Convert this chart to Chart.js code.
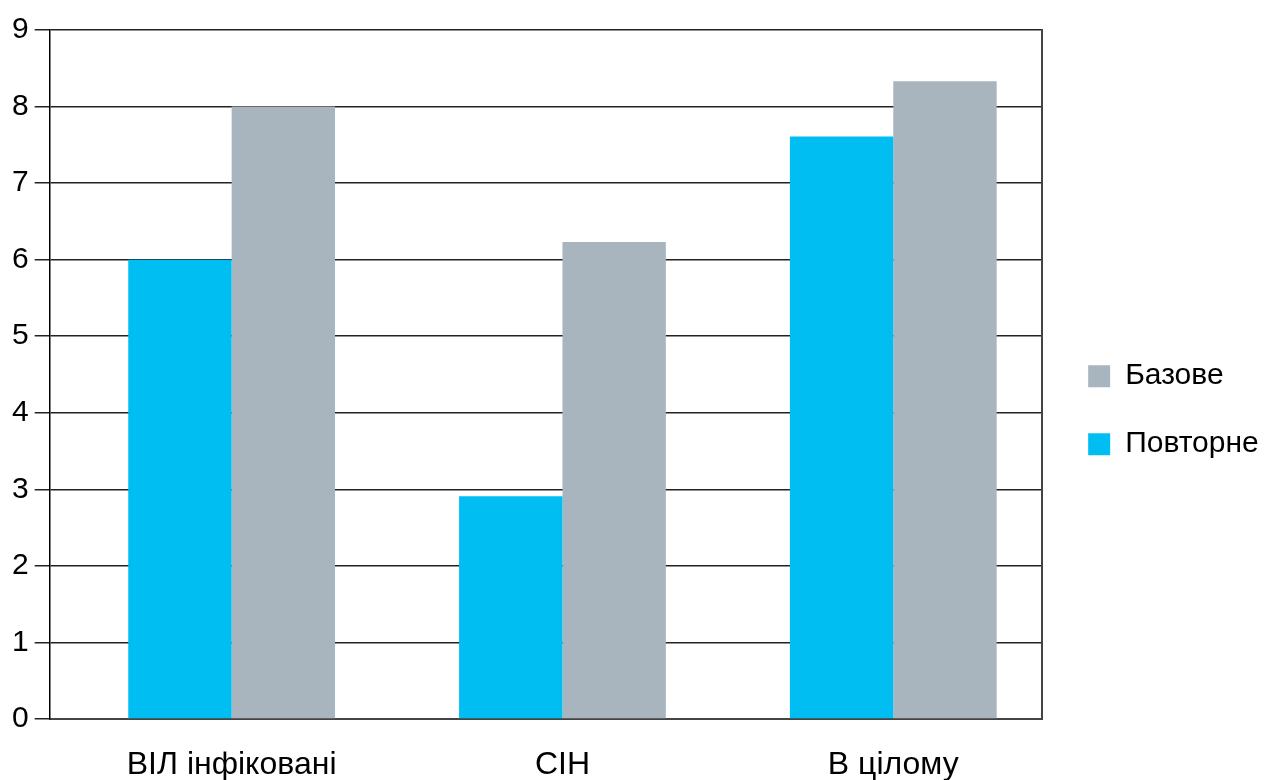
<!DOCTYPE html>
<html>
<head>
<meta charset="utf-8">
<script src="https://cdn.jsdelivr.net/npm/chart.js@4"></script>
<style>
    html, body { margin: 0; padding: 0; background: #fff; }
    #wrap { width: 1270px; height: 780px; }
</style>
</head>
<body>
<div id="wrap"><canvas id="chart"></canvas></div>
<script>
const categories = ["ВІЛ інфіковані", "СІН", "В цілому"];
const povtorne = [6.0, 2.91, 7.61];
const bazove = [8.0, 6.23, 8.33];
const yTicks = [0, 1, 2, 3, 4, 5, 6, 7, 8, 9];

const FONT = "'Liberation Sans', Arial, Helvetica, sans-serif";

// the groups sit a bit right of centre in the original, so x is a numeric axis
const toPoints = values => values.map((v, i) => ({ x: i, y: v }));

const ctx = document.getElementById("chart").getContext("2d");
new Chart(ctx, {
    type: 'bar',
    data: {
        datasets: [{
            label: 'Повторне',
            data: toPoints(povtorne),
            backgroundColor: '#00BEF2',
            categoryPercentage: 0.625,
            barPercentage: 1.0
        }, {
            label: 'Базове',
            data: toPoints(bazove),
            backgroundColor: '#A8B5BE',
            categoryPercentage: 0.625,
            barPercentage: 1.0
        }]
    },
    options: {
        responsive: true,
        maintainAspectRatio: false,
        animation: false,
        layout: {
            padding: { top: 30, left: 6, right: 11, bottom: 0 }
        },
        scales: {
            x: {
                type: 'linear',
                offset: false,
                min: -0.55,
                max: 2.45,
                afterBuildTicks: axis => {
                    axis.ticks = categories.map((c, i) => ({ value: i }));
                },
                afterFit: axis => { axis.height = 61; },
                grid: { display: false, drawTicks: false },
                border: { display: true, color: '#444', width: 2 },
                ticks: {
                    color: '#000',
                    padding: 27,
                    maxRotation: 0,
                    callback: value => categories[value],
                    font: { family: FONT, size: 32 }
                }
            },
            y: {
                min: 0,
                max: 9,
                afterBuildTicks: axis => {
                    axis.ticks = yTicks.map(v => ({ value: v }));
                },
                grid: {
                    color: '#222',
                    lineWidth: 1.5,
                    tickLength: 15
                },
                border: { display: true, color: '#000', width: 1.5 },
                ticks: {
                    color: '#000',
                    padding: 6,
                    font: { family: FONT, size: 30 }
                }
            },
            right: {
                position: 'right',
                min: 0,
                max: 9,
                grid: { display: false },
                border: { display: true, color: '#444', width: 2 },
                ticks: { display: false }
            }
        },
        plugins: {
            legend: {
                position: 'right',
                reverse: true,
                title: {
                    display: true,
                    text: '',
                    padding: { top: 4, bottom: 4 },
                    font: { size: 2 }
                },
                labels: {
                    color: '#000',
                    boxWidth: 22,
                    boxHeight: 22,
                    padding: 38,
                    font: { family: FONT, size: 30 }
                }
            },
            tooltip: { enabled: false }
        }
    }
});
</script>
</body>
</html>
